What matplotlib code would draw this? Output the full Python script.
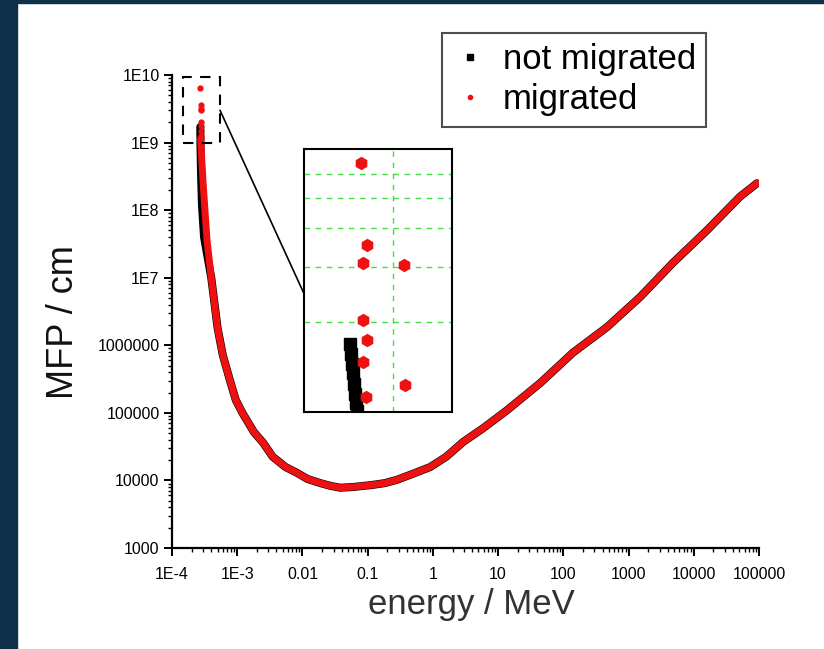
import matplotlib
matplotlib.use('Agg')
import matplotlib.pyplot as plt
import matplotlib.ticker as ticker
from matplotlib.lines import Line2D
from matplotlib.patches import Rectangle, ConnectionPatch

plt.rcParams['font.family'] = ['Liberation Sans', 'DejaVu Sans']

# not migrated: main curve (MeV, cm)
E_not = [2.715e-4, 2.73e-4, 2.78e-4, 2.88e-4, 3.1e-4, 4.0e-4, 5.0e-4, 6.0e-4, 7.6e-4, 9.5e-4,
         1.2e-3, 1.8e-3, 2.5e-3, 3.5e-3, 5.5e-3, 8.3e-3, 0.012, 0.019, 0.027, 0.038, 0.06,
         0.11, 0.18, 0.28, 0.5, 0.91, 1.6, 2.9, 6.0, 13.8, 44, 141, 468,
         1510, 4790, 16200, 51000, 93000]
M_not = [1.7e9, 1.0e9, 4.0e8, 1.2e8, 4.0e7, 1.0e7, 1.8e6, 7.2e5, 3.2e5, 1.55e5,
         1.0e5, 5.2e4, 3.6e4, 2.24e4, 1.58e4, 1.29e4, 1.05e4, 9.1e3, 8.3e3, 7.8e3, 8.0e3,
         8.5e3, 9.1e3, 1.02e4, 1.26e4, 1.58e4, 2.24e4, 3.7e4, 6.0e4, 1.1e5, 2.75e5, 7.8e5, 1.86e6,
         5.2e6, 1.66e7, 5.1e7, 1.58e8, 2.5e8]

# migrated: main curve
E_mig = [2.75e-4, 2.85e-4, 3.0e-4, 3.2e-4, 3.45e-4, 4.0e-4, 5.0e-4, 6.0e-4, 7.6e-4, 9.5e-4,
         1.2e-3, 1.8e-3, 2.5e-3, 3.5e-3, 5.5e-3, 8.3e-3, 0.012, 0.019, 0.027, 0.038, 0.06,
         0.11, 0.18, 0.28, 0.5, 0.91, 1.6, 2.9, 6.0, 13.8, 44, 141, 468,
         1510, 4790, 16200, 51000, 93000]
M_mig = [1.15e9, 6.0e8, 2.5e8, 1.0e8, 3.5e7, 1.0e7, 1.8e6, 7.2e5, 3.2e5, 1.55e5,
         1.0e5, 5.2e4, 3.6e4, 2.24e4, 1.58e4, 1.29e4, 1.05e4, 9.1e3, 8.3e3, 7.8e3, 8.0e3,
         8.5e3, 9.1e3, 1.02e4, 1.26e4, 1.58e4, 2.24e4, 3.7e4, 6.0e4, 1.1e5, 2.75e5, 7.8e5, 1.86e6,
         5.2e6, 1.66e7, 5.1e7, 1.58e8, 2.5e8]

# points near threshold (shown in zoom)
E_out = [2.735e-4, 2.748e-4, 2.740e-4, 2.823e-4, 2.740e-4, 2.748e-4, 2.740e-4, 2.825e-4, 2.746e-4]
M_out = [6.5e9, 3.54e9, 3.10e9, 3.06e9, 2.04e9, 1.75e9, 1.49e9, 1.26e9, 1.15e9]
E_col = [2.713e-4, 2.715e-4, 2.717e-4, 2.719e-4, 2.721e-4, 2.723e-4, 2.725e-4, 2.727e-4]
M_col = [1.70e9, 1.58e9, 1.47e9, 1.37e9, 1.27e9, 1.18e9, 1.10e9, 1.04e9]

x_ticks = [1e-4, 1e-3, 1e-2, 1e-1, 1, 10, 100, 1000, 1e4, 1e5]
x_labels = ['1E-4', '1E-3', '0.01', '0.1', '1', '10', '100', '1000', '10000', '100000']
y_ticks = [1e3, 1e4, 1e5, 1e6, 1e7, 1e8, 1e9, 1e10]
y_labels = ['1000', '10000', '100000', '1000000', '1E7', '1E8', '1E9', '1E10']

fig = plt.figure(figsize=(8.24, 6.49), dpi=100)
fig.patch.set_facecolor('white')
navy = '#0e3048'
fig.patches.append(Rectangle((0, 0), 17 / 824, 1, transform=fig.transFigure, color=navy, zorder=0))
fig.patches.append(Rectangle((0, 1 - 3 / 649), 1, 3 / 649, transform=fig.transFigure, color=navy, zorder=0))

ax = fig.add_axes([172 / 824, 1 - 548 / 649, 587 / 824, 473 / 649])
ax.set_xscale('log')
ax.set_yscale('log')
ax.set_xlim(1e-4, 1e5)
ax.set_ylim(1e3, 1e10)

ax.plot(E_not, M_not, color='black', lw=5.8, solid_joinstyle='round', solid_capstyle='round', zorder=3)
ax.plot(E_mig, M_mig, color='#ee1111', lw=5.0, solid_joinstyle='round', solid_capstyle='round', zorder=4)
ax.plot(E_col, M_col, ls='none', marker='s', ms=3, color='black', zorder=3)
ax.plot(E_out, M_out, ls='none', marker='o', ms=3.5, color='#ee1111', zorder=4)

for s in ['top', 'right']:
    ax.spines[s].set_visible(False)
for s in ['left', 'bottom']:
    ax.spines[s].set_linewidth(1.6)

ax.xaxis.set_major_locator(ticker.FixedLocator(x_ticks))
ax.xaxis.set_major_formatter(ticker.FixedFormatter(x_labels))
ax.yaxis.set_major_locator(ticker.FixedLocator(y_ticks))
ax.yaxis.set_major_formatter(ticker.FixedFormatter(y_labels))
ax.xaxis.set_minor_locator(ticker.LogLocator(base=10, subs=range(2, 10), numticks=30))
ax.yaxis.set_minor_locator(ticker.LogLocator(base=10, subs=range(2, 10), numticks=30))
ax.xaxis.set_minor_formatter(ticker.NullFormatter())
ax.yaxis.set_minor_formatter(ticker.NullFormatter())
ax.tick_params(which='major', direction='out', length=6, width=1.4, labelsize=11.5)
ax.tick_params(axis='x', which='major', pad=8)
ax.tick_params(axis='y', which='major', pad=3)
ax.tick_params(which='minor', direction='out', length=3, width=1.0)

ax.set_ylabel('MFP / cm', fontsize=26, color='#111111')
ax.yaxis.set_label_coords(-0.155, 0.478)
ax.set_xlabel('energy / MeV', fontsize=25, color='#333333')
ax.xaxis.set_label_coords(0.51, -0.085)

# dashed box marking the zoomed region
ax.add_patch(Rectangle((1.47e-4, 9.8e8), 5.45e-4 - 1.47e-4, 9.3e9 - 9.8e8, fill=False,
                       ec='black', lw=1.5, ls=(0, (5, 4)), zorder=5))

# inset
axin = fig.add_axes([304 / 824, 1 - 412 / 649, 148 / 824, 263 / 649])
axin.set_yscale('log')
axin.set_xlim(2.62e-4, 2.92e-4)
axin.set_ylim(1.03e9, 7.2e9)
axin.yaxis.set_major_locator(ticker.FixedLocator([2e9, 3e9, 4e9, 5e9, 6e9]))
axin.yaxis.set_minor_locator(ticker.NullLocator())
axin.xaxis.set_major_locator(ticker.FixedLocator([2.8e-4]))
axin.grid(True, color='#44dd44', ls=(0, (4, 4)), lw=1.0)
axin.tick_params(length=0, labelbottom=False, labelleft=False)
for s in axin.spines.values():
    s.set_linewidth(1.5)
axin.plot(E_col, M_col, ls='none', marker='s', ms=8, color='black', zorder=3)
axin.plot(E_out, M_out, ls='none', marker='h', ms=8.5, color='#ee1111', zorder=4)

con = ConnectionPatch(xyA=(5.45e-4, 3.0e9), coordsA=ax.transData,
                      xyB=(0, 0.45), coordsB=axin.transAxes, color='black', lw=1.2)
fig.add_artist(con)

handles = [Line2D([], [], ls='none', marker='s', ms=4, color='black'),
           Line2D([], [], ls='none', marker='o', ms=3, color='#ee1111')]
leg = fig.legend(handles, ['not migrated', 'migrated'], loc='upper left',
                 bbox_to_anchor=(442 / 824, 1 - 33 / 649), fontsize=25, frameon=True,
                 fancybox=False, edgecolor='#222222', handlelength=1.0, handletextpad=0.45,
                 borderpad=0.3, labelspacing=0.2, borderaxespad=0)
leg.get_frame().set_linewidth(1.5)

fig.savefig('out.png', dpi=100)
